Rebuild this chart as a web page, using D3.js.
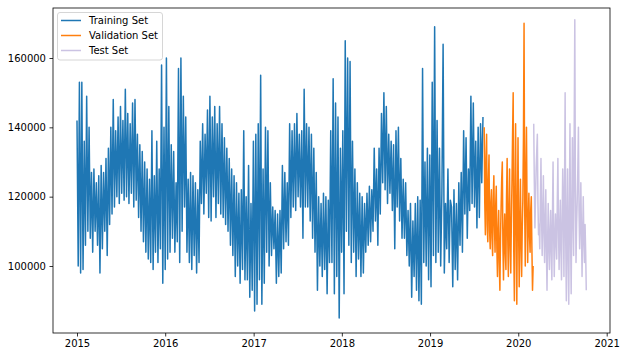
<!DOCTYPE html>
<html><head><meta charset="utf-8">
<script src="https://cdn.jsdelivr.net/npm/d3@7"></script>
<style>body{margin:0;background:#fff}svg{display:block}text{font-family:"DejaVu Sans",sans-serif;font-size:10px;fill:#000}</style>
</head><body><svg id="c" width="625" height="357"></svg>
<script>
// values in thousands; training one value every 5 days, validation/test every 2.5 days
const trainStepHours = 120;
const otherStepHours = 60;
const trainStart = new Date(2015, 0, 1);
const trainValues = [
142,100,153,98,153,99,136,106,149,110,
140,108,127,104,128,110,124,106,126,98,
129,105,127,110,131,103,134,112,140,115,
148,117,139,120,143,118,146,121,142,119,
151,120,144,118,141,121,147,117,148,119,
138,114,135,110,133,107,130,104,128,102,
125,101,139,99,126,104,136,101,128,105,
158,95,140,99,160,102,146,104,135,108,
133,104,124,107,157,101,160,110,149,117,
143,104,125,101,127,99,126,103,124,98,
122,101,136,118,141,115,138,121,145,114,
149,113,143,120,146,114,141,118,146,115,
141,114,137,112,134,110,131,106,128,103,
126,97,124,100,121,95,122,99,139,96,
120,96,129,91,118,93,136,87,138,89,
141,96,155,89,128,95,140,104,139,100,
124,103,117,105,116,95,115,97,116,98,
129,105,127,107,124,106,141,114,139,117,
141,116,144,120,138,117,139,108,151,117,
141,117,140,113,138,108,134,104,127,93,
120,100,118,97,121,99,120,92,119,101,
139,101,154,92,147,97,143,85,134,104,
139,92,165,110,160,106,159,101,136,104,
128,97,124,102,121,97,120,98,118,104,
121,106,123,107,122,110,134,113,128,106,
134,115,144,124,150,122,146,118,138,121,
136,116,135,105,139,117,140,113,131,108,
125,108,124,103,116,100,118,91,113,97,
118,93,120,90,119,89,157,101,130,100,
134,96,132,94,153,103,169,101,142,104,
134,100,121,164,98,118,105,128,101,119,
117,94,122,99,118,96,124,106,127,104,
139,115,137,108,128,116,149,118,147,117,
136,111,140,114,141,124,143
];
const valValues = [
140,118,109,131,138,112,107,125,132,110,105,118,122,108,103,119,126,112,104,117,
123,105,97,110,116,101,93,108,117,125,130,106,96,109,115,104,99,120,131,108,
97,117,128,105,98,113,124,138,150,104,90,121,141,112,89,116,137,110,94,112,
125,106,97,111,119,137,170,118,100,126,140,115,101,113,121,109,104,116,120,105,
93,100
];
const testValues = [
141,124,111,120,128,133,138,118,109,112,105,119,131,114,103,115,126,110,101,113,
122,104,93,107,118,106,99,110,116,104,96,114,130,109,97,108,115,107,102,118,
131,111,99,110,119,105,96,113,128,118,97,122,150,107,90,113,128,102,89,117,
141,108,92,116,137,114,103,139,171,122,101,112,119,128,140,116,105,113,124,110,
97,109,120,108,101,112,104,93
];
const yTicks = [100000, 120000, 140000, 160000];
const xTickYears = [2015, 2016, 2017, 2018, 2019, 2020, 2021];
const seriesNames = ["Training Set", "Validation Set", "Test Set"];
const seriesColors = ["#1f77b4", "#ff7f0e", "#cbc3e3"];

const svg = d3.select("#c");
const L = 53, R = 610, T = 8, B = 333;
const x = d3.scaleTime().domain([new Date(2015,0,1), new Date(2021,0,1)]).range([77, 606.7]);
const y = d3.scaleLinear().domain([100000, 160000]).range([266, 58]);

function build(values, start, stepH) {
  return values.map((v, i) => ({date: d3.timeHour.offset(start, i * stepH), value: v * 1000}));
}
const valStart = d3.timeHour.offset(trainStart, trainValues.length * trainStepHours);
const testStart = d3.timeHour.offset(valStart, valValues.length * otherStepHours);
const series = [
  build(trainValues, trainStart, trainStepHours),
  build(valValues, valStart, otherStepHours),
  build(testValues, testStart, otherStepHours)
];

svg.append("defs").append("clipPath").attr("id","clip").append("rect")
  .attr("x", L).attr("y", T).attr("width", R - L).attr("height", B - T);

const line = d3.line().x(d => x(d.date)).y(d => y(d.value));
const g = svg.append("g").attr("clip-path", "url(#clip)");
series.forEach((s, k) => {
  g.append("path").datum(s).attr("d", line).attr("fill", "none")
    .attr("stroke", seriesColors[k]).attr("stroke-width", 1.5).attr("stroke-linejoin", "round");
});

// axes
const xAxis = d3.axisBottom(x).tickValues(xTickYears.map(yr => new Date(yr,0,1)))
  .tickFormat(d3.timeFormat("%Y")).tickSize(3.5).tickPadding(3.5);
const yAxis = d3.axisLeft(y).tickValues(yTicks).tickFormat(d3.format("d")).tickSize(3.5).tickPadding(3.5);
const gx = svg.append("g").attr("transform", `translate(0,${B})`).call(xAxis);
const gy = svg.append("g").attr("transform", `translate(${L},0)`).call(yAxis);
[gx, gy].forEach(a => {
  a.select(".domain").remove();
  a.selectAll(".tick line").attr("stroke", "#000").attr("stroke-width", 0.8);
  a.selectAll(".tick text").style("font-family", "DejaVu Sans").style("font-size", "10px").attr("fill", "#000");
});
svg.append("rect").attr("x", L).attr("y", T).attr("width", R - L).attr("height", B - T)
  .attr("fill", "none").attr("stroke", "#000").attr("stroke-width", 0.8);

// legend
const lg = svg.append("g");
lg.append("rect").attr("x", 57.5).attr("y", 12.5).attr("width", 105).attr("height", 47.5)
  .attr("rx", 2.5).attr("fill", "#fff").attr("fill-opacity", 0.8).attr("stroke", "#cccccc").attr("stroke-width", 0.8);
seriesNames.forEach((n, k) => {
  const yy = 20.5 + k * 15;
  lg.append("line").attr("x1", 61).attr("x2", 81).attr("y1", yy).attr("y2", yy)
    .attr("stroke", seriesColors[k]).attr("stroke-width", 1.5);
  lg.append("text").attr("x", 89).attr("y", yy + 3.6).text(n);
});
</script></body></html>
